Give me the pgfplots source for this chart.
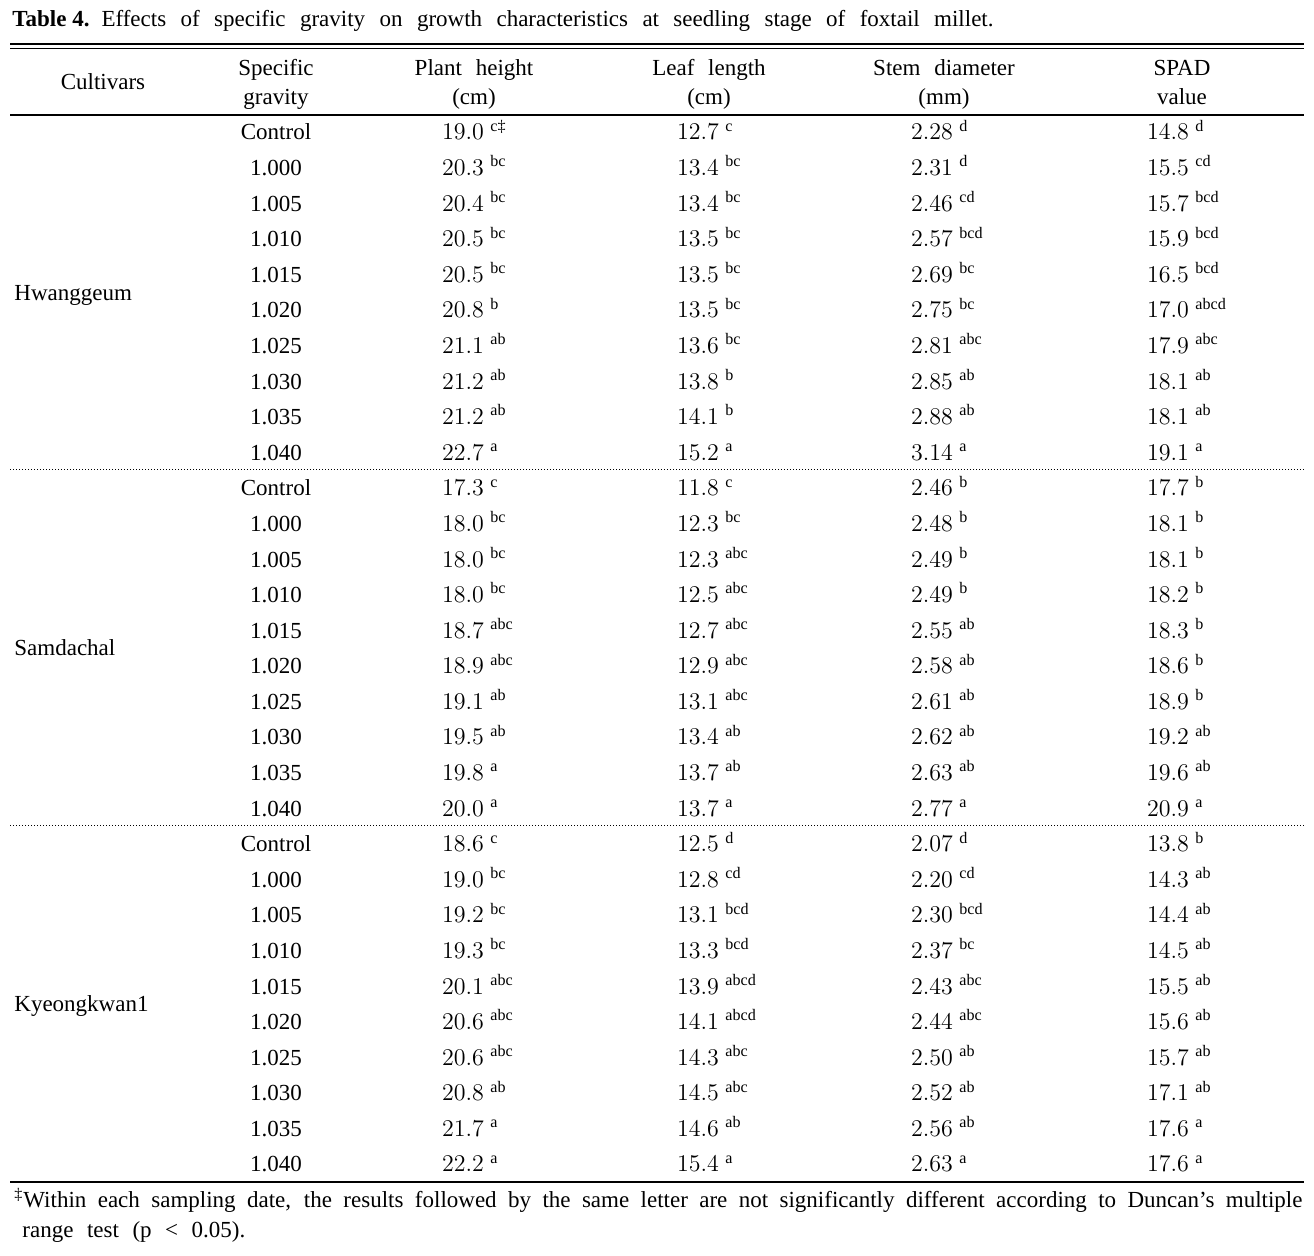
\documentclass[border=0pt]{standalone}
\usepackage{pgfplots}
\usepackage{pgfplotstable}
\pgfplotsset{compat=1.18}
\usepackage{fontspec}
\setmainfont{Liberation Serif}

% row, specific gravity, plant height, letters, leaf length, letters, stem diameter, letters, SPAD, letters
\pgfplotstableread{
row sg ph phl ll lll sd sdl sp spl
0 Control 19.0 {c‡} 12.7 c 2.28 d 14.8 d
1 1.000 20.3 bc 13.4 bc 2.31 d 15.5 cd
2 1.005 20.4 bc 13.4 bc 2.46 cd 15.7 bcd
3 1.010 20.5 bc 13.5 bc 2.57 bcd 15.9 bcd
4 1.015 20.5 bc 13.5 bc 2.69 bc 16.5 bcd
5 1.020 20.8 b 13.5 bc 2.75 bc 17.0 abcd
6 1.025 21.1 ab 13.6 bc 2.81 abc 17.9 abc
7 1.030 21.2 ab 13.8 b 2.85 ab 18.1 ab
8 1.035 21.2 ab 14.1 b 2.88 ab 18.1 ab
9 1.040 22.7 a 15.2 a 3.14 a 19.1 a
}\hwang
\pgfplotstableread{
row sg ph phl ll lll sd sdl sp spl
10 Control 17.3 c 11.8 c 2.46 b 17.7 b
11 1.000 18.0 bc 12.3 bc 2.48 b 18.1 b
12 1.005 18.0 bc 12.3 abc 2.49 b 18.1 b
13 1.010 18.0 bc 12.5 abc 2.49 b 18.2 b
14 1.015 18.7 abc 12.7 abc 2.55 ab 18.3 b
15 1.020 18.9 abc 12.9 abc 2.58 ab 18.6 b
16 1.025 19.1 ab 13.1 abc 2.61 ab 18.9 b
17 1.030 19.5 ab 13.4 ab 2.62 ab 19.2 ab
18 1.035 19.8 a 13.7 ab 2.63 ab 19.6 ab
19 1.040 20.0 a 13.7 a 2.77 a 20.9 a
}\samda
\pgfplotstableread{
row sg ph phl ll lll sd sdl sp spl
20 Control 18.6 c 12.5 d 2.07 d 13.8 b
21 1.000 19.0 bc 12.8 cd 2.20 cd 14.3 ab
22 1.005 19.2 bc 13.1 bcd 2.30 bcd 14.4 ab
23 1.010 19.3 bc 13.3 bcd 2.37 bc 14.5 ab
24 1.015 20.1 abc 13.9 abcd 2.43 abc 15.5 ab
25 1.020 20.6 abc 14.1 abcd 2.44 abc 15.6 ab
26 1.025 20.6 abc 14.3 abc 2.50 ab 15.7 ab
27 1.030 20.8 ab 14.5 abc 2.52 ab 17.1 ab
28 1.035 21.7 a 14.6 ab 2.56 ab 17.6 a
29 1.040 22.2 a 15.4 a 2.63 a 17.6 a
}\kyeong
\pgfplotstableread{
row name
4.5 Hwanggeum
14.5 Samdachal
24.5 Kyeongkwan1
}\cultivars

\newcommand{\tfont}{\fontsize{11.5}{13.5}\selectfont}
\newcommand{\rowy}{140+35.586*\thisrow{row}}

\newcommand{\valcol}[5]{% table, x, value col, letter col, precision
  \addplot[draw=none, mark=none, forget plot,
    point meta=\thisrow{#3},
    nodes near coords={\pgfmathprintnumber[fixed,fixed zerofill,precision=#5]{\pgfplotspointmeta}}]
    table[x expr=#2, y expr=\rowy] {#1};
  \addplot[draw=none, mark=none, forget plot,
    point meta=explicit symbolic,
    nodes near coords={\textsuperscript{\pgfplotspointmeta}},
    every node near coord/.append style={anchor=base west}]
    table[x expr=#2+27, y expr=\rowy, meta=#4] {#1};
}
\newcommand{\plotgroup}[1]{%
  \addplot[draw=none, mark=none, forget plot,
    point meta=explicit symbolic, nodes near coords]
    table[x expr=276, y expr=\rowy, meta=sg] {#1};
  \valcol{#1}{463}{ph}{phl}{1}
  \valcol{#1}{698}{ll}{lll}{1}
  \valcol{#1}{932}{sd}{sdl}{2}
  \valcol{#1}{1168}{sp}{spl}{1}
}

\begin{document}
\begin{tikzpicture}
\begin{axis}[
  scale only axis, width=657pt, height=628pt,
  xmin=0, xmax=1314, ymin=0, ymax=1256, y dir=reverse,
  hide axis, clip=false,
  every node near coord/.append style={anchor=base, inner sep=0pt, font=\tfont, text=black},
]
\addplot[draw=none, mark=none, forget plot] coordinates {(0,0) (1314,1256)};
% rules
\addplot[black, line width=0.6pt, forget plot] coordinates {(10,44) (1304,44)};
\addplot[black, line width=0.6pt, forget plot] coordinates {(10,48.5) (1304,48.5)};
\addplot[black, line width=0.7pt, forget plot] coordinates {(10,115) (1304,115)};
\addplot[black, line width=0.5pt, densely dotted, forget plot] coordinates {(10,470) (1304,470)};
\addplot[black, line width=0.5pt, densely dotted, forget plot] coordinates {(10,826) (1304,826)};
\addplot[black, line width=0.7pt, forget plot] coordinates {(10,1182) (1304,1182)};
% data
\plotgroup{\hwang}
\plotgroup{\samda}
\plotgroup{\kyeong}
\addplot[draw=none, mark=none, forget plot,
  point meta=explicit symbolic, nodes near coords,
  every node near coord/.append style={anchor=base west}]
  table[x expr=14, y expr=\rowy, meta=name] {\cultivars};
% title
\node[anchor=base west, inner sep=0pt, font=\tfont] at (axis cs:12,27)
  {\textbf{Table 4.}\hspace{6pt}\makebox[446pt][s]{Effects of specific gravity on growth characteristics at seedling stage of foxtail millet.}};
% header
\begin{scope}[every node/.style={anchor=base, inner sep=0pt, font=\tfont}]
\node at (axis cs:103,90) {Cultivars};
\node at (axis cs:276,76) {Specific};
\node at (axis cs:276,105) {gravity};
\node at (axis cs:474,76) {Plant\hspace{0.6em}height};
\node at (axis cs:474,105) {(cm)};
\node at (axis cs:709,76) {Leaf\hspace{0.6em}length};
\node at (axis cs:709,105) {(cm)};
\node at (axis cs:944,76) {Stem\hspace{0.6em}diameter};
\node at (axis cs:944,105) {(mm)};
\node at (axis cs:1182,76) {SPAD};
\node at (axis cs:1182,105) {value};
\end{scope}
% footnote
\node[anchor=base west, inner sep=0pt, font=\tfont] at (axis cs:14,1208)
  {\makebox[644pt][s]{\textsuperscript{‡}Within each sampling date, the results followed by the same letter are not significantly different according to Duncan’s multiple}};
\node[anchor=base west, inner sep=0pt, font=\tfont] at (axis cs:22,1238)
  {\makebox[111.5pt][s]{range test (p < 0.05).}};
\end{axis}
\end{tikzpicture}
\end{document}
